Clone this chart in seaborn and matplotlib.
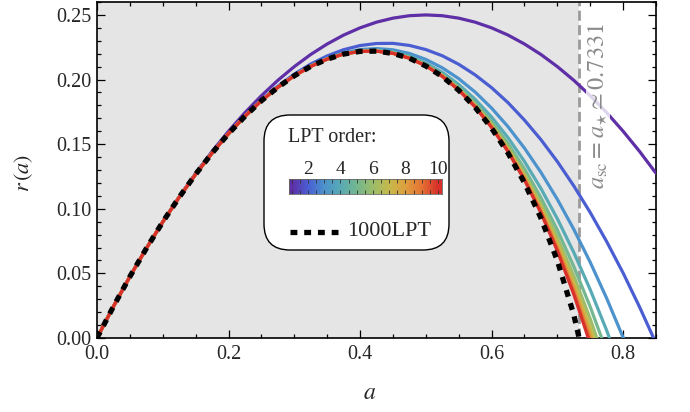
import numpy as np
import pandas as pd
import seaborn as sns
import matplotlib.pyplot as plt
from matplotlib.colors import LinearSegmentedColormap, Normalize
from matplotlib.patches import FancyBboxPatch
from matplotlib.lines import Line2D
from matplotlib.transforms import IdentityTransform
from matplotlib.ticker import MultipleLocator

# scale factor grid
a_grid = [0.0, 0.025, 0.05, 0.075, 0.1, 0.125, 0.15, 0.175, 0.2, 0.225, 0.25, 0.275,
          0.3, 0.325, 0.35, 0.375, 0.4, 0.425, 0.45, 0.475, 0.5, 0.525, 0.55, 0.575,
          0.6, 0.625, 0.65, 0.675, 0.7, 0.725, 0.75, 0.775, 0.8, 0.825, 0.85]

# r(a) for LPT orders 1..10 (each curve stops one point after it crosses zero)
r_lpt1 = [0.0, 0.0244, 0.0475, 0.0694, 0.0900, 0.1094, 0.1275, 0.1444, 0.1600, 0.1744, 0.1875,
          0.1994, 0.2100, 0.2194, 0.2275, 0.2344, 0.2400, 0.2444, 0.2475, 0.2494, 0.2500, 0.2494,
          0.2475, 0.2444, 0.2400, 0.2344, 0.2275, 0.2194, 0.2100, 0.1994, 0.1875, 0.1744, 0.1600,
          0.1444, 0.1275]
r_lpt2 = [0.0, 0.0244, 0.0475, 0.0693, 0.0898, 0.1090, 0.1268, 0.1432, 0.1583, 0.1719, 0.1842,
          0.1949, 0.2042, 0.2120, 0.2183, 0.2231, 0.2263, 0.2279, 0.2280, 0.2264, 0.2232, 0.2184,
          0.2118, 0.2036, 0.1937, 0.1821, 0.1686, 0.1535, 0.1365, 0.1177, 0.0971, 0.0746, 0.0503,
          0.0240, -0.0041]
r_lpt3 = [0.0, 0.0244, 0.0475, 0.0693, 0.0898, 0.1089, 0.1267, 0.1431, 0.1581, 0.1716, 0.1837,
          0.1942, 0.2032, 0.2107, 0.2165, 0.2207, 0.2232, 0.2240, 0.2230, 0.2202, 0.2156, 0.2091,
          0.2007, 0.1903, 0.1779, 0.1635, 0.1469, 0.1282, 0.1073, 0.0841, 0.0586, 0.0307, 0.0004,
          -0.0323]
r_lpt4 = [0.0, 0.0244, 0.0475, 0.0693, 0.0898, 0.1089, 0.1267, 0.1431, 0.1581, 0.1716, 0.1836,
          0.1941, 0.2030, 0.2103, 0.2160, 0.2200, 0.2223, 0.2227, 0.2213, 0.2181, 0.2128, 0.2056,
          0.1962, 0.1847, 0.1710, 0.1550, 0.1366, 0.1157, 0.0923, 0.0662, 0.0374, 0.0058, -0.0288]
r_lpt5 = [0.0, 0.0244, 0.0475, 0.0693, 0.0898, 0.1089, 0.1267, 0.1431, 0.1581, 0.1716, 0.1836,
          0.1940, 0.2030, 0.2102, 0.2159, 0.2198, 0.2219, 0.2223, 0.2207, 0.2172, 0.2116, 0.2040,
          0.1941, 0.1820, 0.1675, 0.1505, 0.1309, 0.1086, 0.0835, 0.0553, 0.0241, -0.0105]
r_lpt6 = [0.0, 0.0244, 0.0475, 0.0693, 0.0898, 0.1089, 0.1267, 0.1431, 0.1581, 0.1716, 0.1836,
          0.1940, 0.2029, 0.2102, 0.2158, 0.2197, 0.2218, 0.2221, 0.2205, 0.2168, 0.2111, 0.2032,
          0.1931, 0.1806, 0.1656, 0.1479, 0.1275, 0.1042, 0.0778, 0.0480, 0.0148, -0.0221]
r_lpt7 = [0.0, 0.0244, 0.0475, 0.0693, 0.0898, 0.1089, 0.1267, 0.1431, 0.1581, 0.1716, 0.1836,
          0.1940, 0.2029, 0.2102, 0.2158, 0.2197, 0.2218, 0.2220, 0.2203, 0.2166, 0.2108, 0.2028,
          0.1925, 0.1798, 0.1644, 0.1464, 0.1254, 0.1013, 0.0739, 0.0429, 0.0081, -0.0309]
r_lpt8 = [0.0, 0.0244, 0.0475, 0.0693, 0.0898, 0.1089, 0.1267, 0.1431, 0.1581, 0.1716, 0.1836,
          0.1940, 0.2029, 0.2102, 0.2158, 0.2197, 0.2218, 0.2220, 0.2203, 0.2166, 0.2107, 0.2026,
          0.1922, 0.1793, 0.1637, 0.1454, 0.1239, 0.0993, 0.0711, 0.0391, 0.0029, -0.0379]
r_lpt9 = [0.0, 0.0244, 0.0475, 0.0693, 0.0898, 0.1089, 0.1267, 0.1431, 0.1581, 0.1716, 0.1836,
          0.1940, 0.2029, 0.2102, 0.2158, 0.2197, 0.2218, 0.2220, 0.2203, 0.2165, 0.2106, 0.2025,
          0.1920, 0.1790, 0.1633, 0.1447, 0.1230, 0.0978, 0.0690, 0.0361, -0.0012]
r_lpt10 = [0.0, 0.0244, 0.0475, 0.0693, 0.0898, 0.1089, 0.1267, 0.1431, 0.1581, 0.1716, 0.1836,
           0.1940, 0.2029, 0.2102, 0.2158, 0.2197, 0.2218, 0.2220, 0.2203, 0.2165, 0.2106, 0.2025,
           0.1919, 0.1788, 0.1630, 0.1442, 0.1223, 0.0968, 0.0674, 0.0338, -0.0046]

# 1000LPT curve, ends at the shell-crossing time
a_star = 0.7331
a_exact = a_grid[:30] + [a_star]
r_1000 = [0.0, 0.0244, 0.0475, 0.0693, 0.0898, 0.1089, 0.1267, 0.1431, 0.1581, 0.1716, 0.1836,
          0.1940, 0.2029, 0.2102, 0.2158, 0.2197, 0.2218, 0.2220, 0.2202, 0.2165, 0.2105, 0.2024,
          0.1917, 0.1785, 0.1624, 0.1431, 0.1201, 0.0929, 0.0598, 0.0180, 0.0]

orders = list(range(1, 11))
cbar_ticks = [2, 4, 6, 8, 10]

lpt_series = [r_lpt1, r_lpt2, r_lpt3, r_lpt4, r_lpt5, r_lpt6, r_lpt7, r_lpt8, r_lpt9, r_lpt10]

rows = []
for n, rv in zip(orders, lpt_series):
    for a, r in zip(a_grid, rv):
        rows.append({"a": a, "r": r, "order": n})
df = pd.DataFrame(rows)

# rainbow-ish colour scheme (purple -> red)
rainbow = LinearSegmentedColormap.from_list("rb", [
    "#5E2FA6", "#4A5FD3", "#4C93CC", "#58AAB4", "#74B790",
    "#9CBD6A", "#C6B94C", "#DEA03F", "#E57434", "#D8302A"])
norm = Normalize(1, 10)
palette = {n: rainbow(norm(n)) for n in orders}

sns.set_style("ticks")
plt.rcParams["font.family"] = ["Liberation Serif", "DejaVu Serif"]
plt.rcParams["mathtext.fontset"] = "stix"

fig = plt.figure(figsize=(6.9, 4.12), dpi=100)
ax = fig.add_axes([97 / 690, 74 / 412, 559 / 690, 336 / 412])

ax.axvspan(0, a_star, color="#E5E5E5", zorder=0, lw=0)
ax.axvline(a_star, color="#9a9a9a", lw=2, dashes=(3.6, 1.6), zorder=1)

sns.lineplot(data=df, x="a", y="r", hue="order", palette=palette, estimator=None,
             sort=False, lw=2.3, legend=False, ax=ax, zorder=3)
sns.lineplot(x=a_exact, y=r_1000, color="black", lw=3.8, estimator=None, sort=False,
             ax=ax, zorder=4, linestyle=(0, (1.3, 1.3)), dash_capstyle="butt")

ax.text(0.762, 0.1796, r"$a_{\rm sc} = a_{\star} \simeq 0.7331$", rotation=90,
        ha="center", va="center", color="#8a8a8a", fontsize=17.5, zorder=5,
        bbox=dict(fc="white", ec="none", alpha=0.8, pad=0.5))

ax.set_xlim(0, 0.85)
ax.set_ylim(0, 0.26)
ax.xaxis.set_major_locator(MultipleLocator(0.2))
ax.xaxis.set_minor_locator(MultipleLocator(0.05))
ax.yaxis.set_major_locator(MultipleLocator(0.05))
ax.yaxis.set_minor_locator(MultipleLocator(0.01))
ax.xaxis.set_major_formatter(plt.FormatStrFormatter("%.1f"))
ax.yaxis.set_major_formatter(plt.FormatStrFormatter("%.2f"))
ax.tick_params(which="both", direction="in", top=True, right=True, width=0.9, color="black")
ax.tick_params(which="major", length=6, labelsize=14.5)
ax.tick_params(axis="x", which="major", pad=5)
ax.tick_params(axis="y", which="major", pad=4)
ax.tick_params(which="minor", length=3.2)
for sp in ax.spines.values():
    sp.set_linewidth(1.2)
    sp.set_color("black")

ax.set_xlabel(r"$a$", fontsize=17)
ax.set_ylabel(r"$r\,(a)$", fontsize=16)
ax.xaxis.label.set_va("center")
ax.yaxis.label.set_va("center")
ax.xaxis.set_label_coords(0.488, -0.164)
ax.yaxis.set_label_coords(-0.131, 0.49)

# legend box with colour bar
box = FancyBboxPatch((264, 162), 185, 135, boxstyle="round,pad=0,rounding_size=26",
                     transform=IdentityTransform(), fc="white", ec="black", lw=1.0, zorder=2)
fig.add_artist(box)
fig.text(288 / 690, 274 / 412, "LPT order:", ha="left", va="center", fontsize=14.5, zorder=3)
fig.text(347 / 690, 181 / 412, "1000LPT", ha="left", va="center", fontsize=16, zorder=3)
fig.add_artist(Line2D([290 / 690, 338 / 690], [180 / 412, 180 / 412], transform=fig.transFigure,
                      color="black", lw=3.8, linestyle=(0, (1.3, 1.3)), dash_capstyle="butt",
                      zorder=3))

cax = fig.add_axes([289 / 690, 218 / 412, 153 / 690, 15 / 412])
cax.set_zorder(5)
grad = np.linspace(0.83, 10.25, 400)
cax.imshow(grad[None, :], aspect="auto", cmap=rainbow, norm=norm,
           extent=[0.83, 10.25, 0, 1])
cax.set_xlim(0.83, 10.25)
cax.set_yticks([])
cax.set_xticks(cbar_ticks)
cax.xaxis.set_minor_locator(MultipleLocator(0.5))
cax.xaxis.tick_top()
cax.tick_params(axis="x", which="both", direction="in", top=True, bottom=True,
                length=3, width=0.6, color="#333333", labelsize=14, pad=1)
for sp in cax.spines.values():
    sp.set_linewidth(0.6)
    sp.set_color("#666666")

fig.savefig("out.png", dpi=100)
